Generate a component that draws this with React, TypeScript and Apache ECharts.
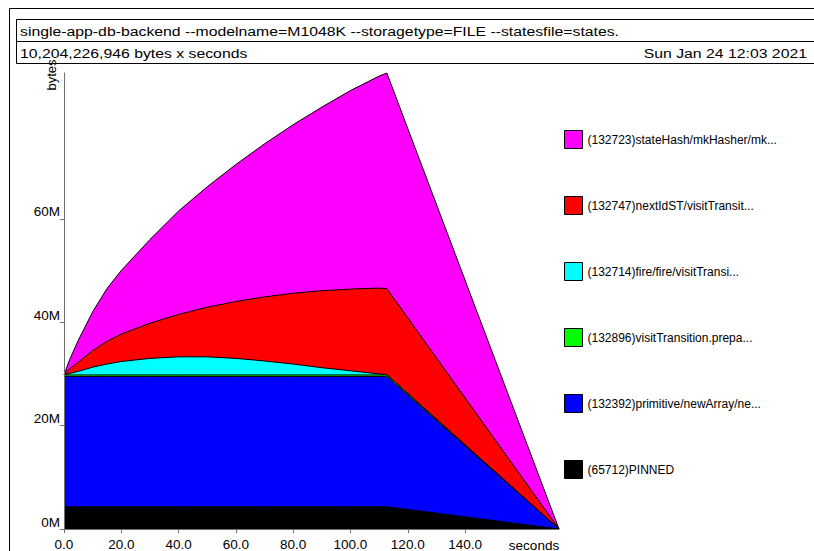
import React, { useEffect, useRef } from "react";
import * as echarts from "echarts";

// sample times (seconds)
const times = [0, 2, 5, 10, 15, 20, 30, 40, 50, 60, 70, 80, 90, 100, 110, 112.7, 172.8];
// heap by cost centre, in M bytes (bottom of stack first)
const pinned = [4.3, 4.3, 4.3, 4.3, 4.3, 4.3, 4.3, 4.3, 4.3, 4.3, 4.3, 4.3, 4.3, 4.3, 4.3, 4.3, 0];
const primitiveNewArray = [25.2, 25.2, 25.2, 25.2, 25.2, 25.2, 25.2, 25.2, 25.2, 25.2, 25.2, 25.2, 25.2, 25.2, 25.2, 25.2, 0];
const visitTransitionPrepa = [0.3, 0.3, 0.3, 0.3, 0.3, 0.3, 0.3, 0.3, 0.3, 0.3, 0.3, 0.3, 0.3, 0.3, 0.3, 0.3, 0];
const fireVisit = [0, 0.3, 0.7, 1.5, 2.1, 2.6, 3.2, 3.5, 3.5, 3.2, 2.7, 2.1, 1.4, 0.8, 0.2, 0.05, 0];
const nextIdST = [0, 0.9, 1.8, 3.2, 4.4, 5.3, 6.8, 8.2, 9.6, 11.0, 12.4, 13.7, 14.9, 15.8, 16.6, 16.65, 0];
const stateHash = [0, 1.8, 4.2, 7.5, 10.2, 12.3, 16.2, 20.0, 23.3, 26.5, 29.6, 32.6, 35.5, 38.4, 41.0, 41.7, 0];

const seriesNames = [
  "(65712)PINNED",
  "(132392)primitive/newArray/ne...",
  "(132896)visitTransition.prepa...",
  "(132714)fire/fire/visitTransi...",
  "(132747)nextIdST/visitTransit...",
  "(132723)stateHash/mkHasher/mk...",
];
const seriesValues = [pinned, primitiveNewArray, visitTransitionPrepa, fireVisit, nextIdST, stateHash];
const seriesColors = ["#000000", "#0000ff", "#00ff00", "#00ffff", "#ff0000", "#ff00ff"];

const xTicks = [0, 20, 40, 60, 80, 100, 120, 140];
const yTicks = [0, 20, 40, 60];
const xMax = 172.8;
const yMax = 88.2;

const titleText = "single-app-db-backend --modelname=M1048K --storagetype=FILE --statesfile=states.";
const subText = "10,204,226,946 bytes x seconds";
const dateText = "Sun Jan 24 12:03 2021";

const FONT = "Liberation Sans, Arial, Helvetica, sans-serif";

export default function App() {
  const ref = useRef<HTMLDivElement>(null);
  useEffect(() => {
    if (!ref.current) return;
    const chart = echarts.init(ref.current, undefined, { renderer: "svg" });
    // cumulative tops of the stacked bands
    const running = times.map(() => 0);
    const series = seriesValues.map((vals, i) => {
      const data = vals.map((v, j) => {
        running[j] += v;
        return [times[j], running[j]];
      });
      return {
        name: seriesNames[i],
        type: "line",
        data,
        symbol: "none",
        showSymbol: false,
        lineStyle: { color: "#000", width: 1 },
        itemStyle: { color: seriesColors[i] },
        areaStyle: { color: seriesColors[i], opacity: 1, origin: "start" },
        z: 20 - i,
      };
    });
    chart.setOption({
      animation: false,
      backgroundColor: "#fff",
      textStyle: { fontFamily: FONT },
      grid: { left: 64, top: 73, width: 495, height: 456.5 },
      xAxis: {
        type: "value",
        min: 0,
        max: xMax,
        z: 30,
        axisLine: { lineStyle: { color: "#707070", width: 1 } },
        axisTick: { show: true, length: 4, customValues: xTicks, lineStyle: { color: "#707070" } },
        axisLabel: {
          customValues: xTicks,
          formatter: (v: number) => v.toFixed(1),
          color: "#000",
          fontSize: 13.5,
          fontFamily: FONT,
          margin: 8,
        },
        splitLine: { show: false },
      },
      yAxis: {
        type: "value",
        min: 0,
        max: yMax,
        z: 30,
        axisLine: { show: true, lineStyle: { color: "#707070", width: 1 } },
        axisTick: { show: true, length: 4, customValues: yTicks, lineStyle: { color: "#707070" } },
        axisLabel: {
          customValues: yTicks,
          formatter: (v: number) => v + "M",
          color: "#000",
          fontSize: 13.5,
          fontFamily: FONT,
          margin: 4,
          verticalAlign: "bottom",
        },
        splitLine: { show: false },
      },
      legend: {
        orient: "vertical",
        left: 559,
        top: 125,
        itemWidth: 18,
        itemHeight: 18,
        itemGap: 47,
        icon: "rect",
        data: seriesNames.slice().reverse(),
        itemStyle: { borderColor: "#000", borderWidth: 1 },
        textStyle: { color: "#000", fontSize: 12, fontFamily: FONT },
        selectedMode: false,
      },
      graphic: [
        {
          type: "rect",
          shape: { x: 9.5, y: 8.5, width: 1000, height: 1000 },
          style: { fill: "none", stroke: "#000", lineWidth: 1 },
        },
        {
          type: "rect",
          shape: { x: 16.5, y: 19.5, width: 1000, height: 44 },
          style: { fill: "none", stroke: "#000", lineWidth: 1 },
        },
        {
          type: "line",
          shape: { x1: 16.5, y1: 41.5, x2: 1016, y2: 41.5 },
          style: { stroke: "#000", lineWidth: 1 },
        },
        {
          type: "text",
          x: 20,
          y: 31,
          scaleX: 1.17,
          style: { text: titleText, fill: "#000", font: `13.5px ${FONT}`, verticalAlign: "middle" },
        },
        {
          type: "text",
          x: 20,
          y: 53,
          scaleX: 1.17,
          style: { text: subText, fill: "#000", font: `13.5px ${FONT}`, verticalAlign: "middle" },
        },
        {
          type: "text",
          x: 807,
          y: 53,
          scaleX: 1.17,
          style: { text: dateText, fill: "#000", font: `13.5px ${FONT}`, align: "right", verticalAlign: "middle" },
        },
        {
          type: "text",
          x: 51,
          y: 75,
          rotation: Math.PI / 2,
          style: { text: "bytes", fill: "#000", font: `13px ${FONT}`, align: "center", verticalAlign: "middle" },
        },
        {
          type: "text",
          x: 534,
          y: 545,
          style: { text: "seconds", fill: "#000", font: `13.5px ${FONT}`, align: "center", verticalAlign: "middle" },
        },
      ],
      series,
    });
    return () => chart.dispose();
  }, []);
  return (
    <div
      ref={ref}
      style={{ position: "fixed", left: 0, top: 0, width: 814, height: 551 }}
    />
  );
}
